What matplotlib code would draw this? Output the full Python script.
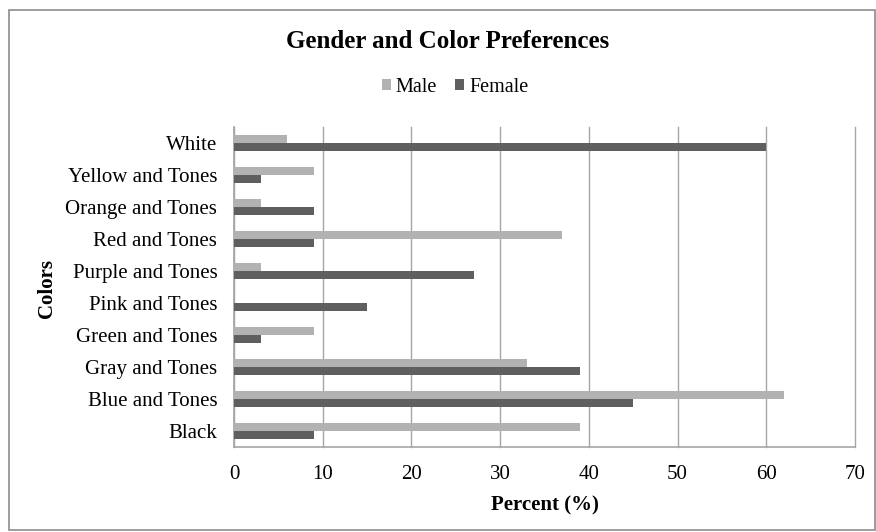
import matplotlib.pyplot as plt
import numpy as np
from matplotlib.patches import Rectangle

plt.rcParams['font.family'] = ['Liberation Serif', 'DejaVu Serif']

# category labels, bottom to top
colors = ['Black', 'Blue and Tones', 'Gray and Tones', 'Green and Tones',
          'Pink and Tones', 'Purple and Tones', 'Red and Tones',
          'Orange and Tones', 'Yellow and Tones', 'White']
male = [39, 62, 33, 9, 0, 3, 37, 3, 9, 6]
female = [9, 45, 39, 3, 15, 27, 9, 9, 3, 60]

male_color = '#b2b2b2'
female_color = '#5f5f5f'

fig = plt.figure(figsize=(8.76, 5.32), dpi=100)
ax = fig.add_axes([234 / 876, 1 - 447 / 532, 621 / 876, 320 / 532])

y = np.arange(len(colors))
h = 0.22
ax.barh(y + 0.125, male, height=h, color=male_color, label='Male', zorder=3)
ax.barh(y - 0.125, female, height=h, color=female_color, label='Female', zorder=3)

ax.set_xlim(0, 70)
ax.set_ylim(-0.5, 9.5)
ax.set_xticks(range(0, 71, 10))
ax.set_yticks(y)
ax.set_yticklabels(colors)
ax.xaxis.grid(True, color='#a6a6a6', linewidth=1.0, zorder=0)
for gl in ax.get_xgridlines():
    gl.set_clip_on(False)
ax.tick_params(axis='both', length=0, labelsize=15)
ax.tick_params(axis='y', pad=12)
ax.tick_params(axis='x', pad=13)

for side in ['top', 'right']:
    ax.spines[side].set_visible(False)
for side in ['left', 'bottom']:
    ax.spines[side].set_color('#a6a6a6')
    ax.spines[side].set_linewidth(1.2)

ax.set_xlabel('Percent (%)', fontsize=15, fontweight='bold', labelpad=8)
fig.text(47 / 876, 1 - 288 / 532, 'Colors', rotation=90, fontsize=15,
         fontweight='bold', ha='center', va='center')

fig.text(448 / 876, 1 - 41 / 532, 'Gender and Color Preferences',
         fontsize=18, fontweight='bold', ha='center', va='center')

fig.legend(loc='center', bbox_to_anchor=(455 / 876, 1 - 87 / 532), ncol=2,
           frameon=False, fontsize=14.5, handlelength=0.45, handleheight=0.45,
           handletextpad=0.25, columnspacing=0.9)

# chart frame
fig.patches.append(Rectangle((9 / 876, 2 / 532), 866 / 876, 520 / 532,
                             transform=fig.transFigure, fill=False,
                             edgecolor='#8c8c8c', linewidth=1.2))

fig.savefig('out.png', dpi=100)
